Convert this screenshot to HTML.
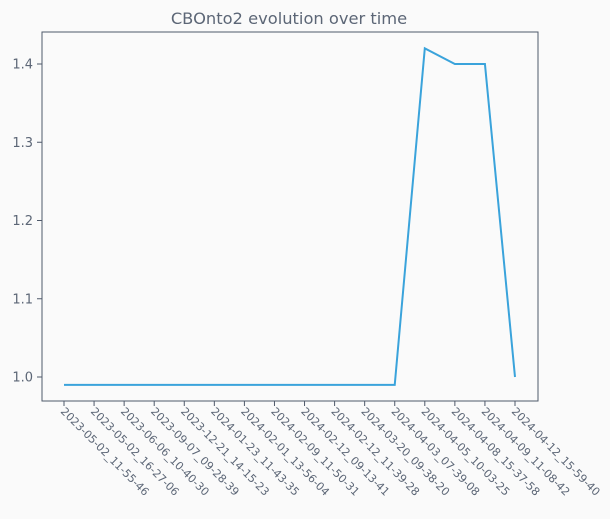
<!DOCTYPE html>
<html><head><meta charset="utf-8"><style>
html,body{margin:0;padding:0;background:#fafafa;}
svg text{font-family:"DejaVu Sans","Liberation Sans",sans-serif;fill:#5c6676;}
</style></head><body>
<svg id="chart" width="610" height="514" xmlns="http://www.w3.org/2000/svg">
<rect width="610" height="514" fill="#fafafa"/>
<text x="289" y="24" text-anchor="middle" font-size="16.3">CBOnto2 evolution over time</text>
<g id="plot"></g>
</svg>
<script>
const categories=["2023-05-02_11-55-46","2023-05-02_16-27-06","2023-06-06_10-40-30","2023-09-07_09-28-39","2023-12-21_14-15-23","2024-01-23_11-43-35","2024-02-01_13-56-04","2024-02-09_11-50-31","2024-02-12_09-13-41","2024-02-12_11-39-28","2024-03-20_09-38-20","2024-04-03_07-39-08","2024-04-05_10-03-25","2024-04-08_15-37-58","2024-04-09_11-08-42","2024-04-12_15-59-40"];
const values=[0.99,0.99,0.99,0.99,0.99,0.99,0.99,0.99,0.99,0.99,0.99,0.99,1.42,1.40,1.40,1.00];
const yTicks=[1.0,1.1,1.2,1.3,1.4];
const yTickLabels=["1.0","1.1","1.2","1.3","1.4"];

const NS="http://www.w3.org/2000/svg";
const g=document.getElementById('plot');
const L=42,R=538,T=32,B=401;
const x0=64,x1=515;
function xs(i){return x0+(x1-x0)*i/(categories.length-1);}
function ys(v){return 377-(v-1.0)*782.5;}
function mk(t,a){const e=document.createElementNS(NS,t);for(const k in a)e.setAttribute(k,a[k]);g.appendChild(e);return e;}
const frame=mk('rect',{x:L,y:T,width:R-L,height:B-T,fill:'none',stroke:'#4f596a','stroke-width':1});


yTicks.forEach((v,i)=>{
  const y=ys(v);
  const t=mk('line',{x1:L-5,x2:L,y1:y,y2:y,stroke:'#4f596a'});
  
  
  const lb=mk('text',{x:L-9,y:y+4.5,'text-anchor':'end','font-size':13});
  lb.textContent=yTickLabels[i];
  
  
});
categories.forEach((c,i)=>{
  const x=xs(i);
  const t=mk('line',{x1:x,x2:x,y1:B,y2:B+5,stroke:'#4f596a'});
  
  
  const lb=mk('text',{x:0,y:0,'font-size':11,transform:`translate(${x-4},${B+11}) rotate(45)`});
  lb.textContent=c;
  
  
});
const pts=values.map((v,i)=>xs(i)+','+ys(v)).join(' ');
const line=mk('polyline',{points:pts,fill:'none',stroke:'#3aa3db','stroke-width':2,'stroke-linejoin':'miter'});


</script>
</body></html>
